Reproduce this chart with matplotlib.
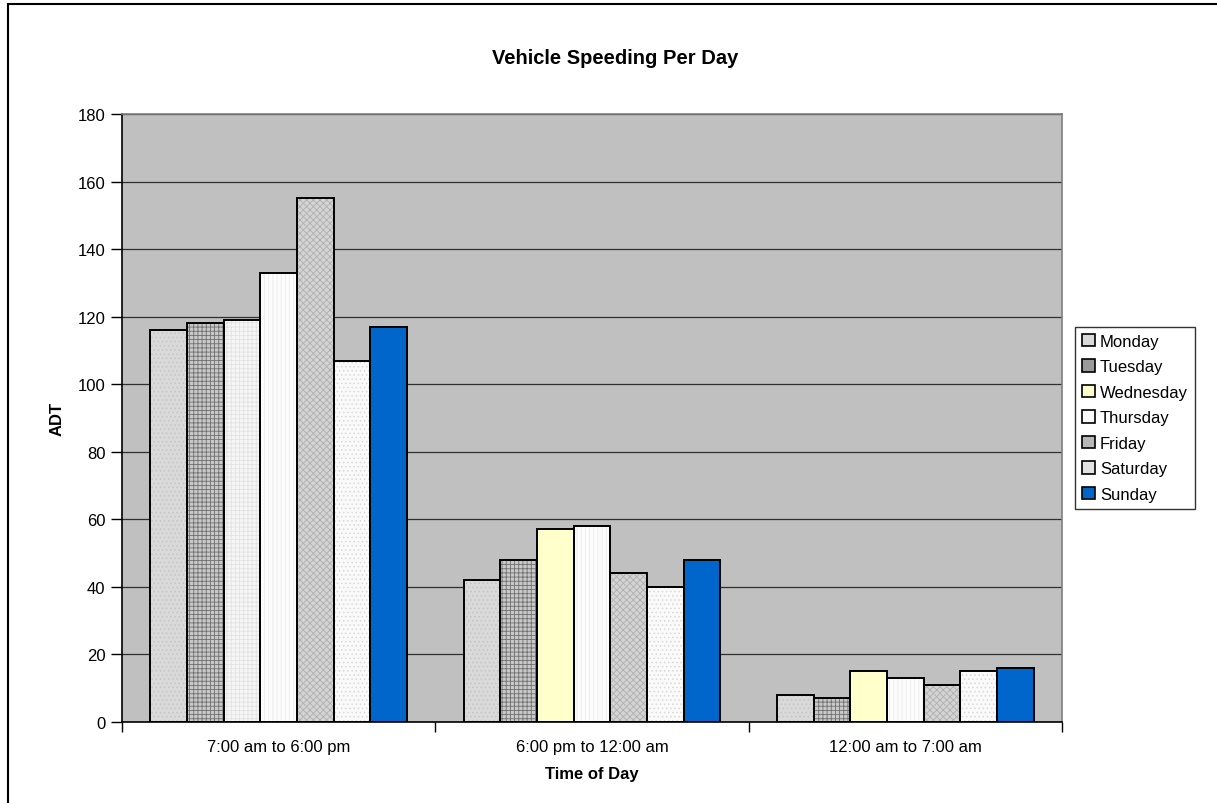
import matplotlib.pyplot as plt
import numpy as np
from matplotlib.patches import Patch, Rectangle

plt.rcParams["font.family"] = ["Liberation Sans", "DejaVu Sans"]
plt.rcParams["hatch.linewidth"] = 0.6

periods = ["7:00 am to 6:00 pm", "6:00 pm to 12:00 am", "12:00 am to 7:00 am"]
days = ["Monday", "Tuesday", "Wednesday", "Thursday", "Friday", "Saturday", "Sunday"]
counts = {
    "Monday": [116, 42, 8],
    "Tuesday": [118, 48, 7],
    "Wednesday": [119, 57, 15],
    "Thursday": [133, 58, 13],
    "Friday": [155, 44, 11],
    "Saturday": [107, 40, 15],
    "Sunday": [117, 48, 16],
}

# fill colour, hatch pattern, hatch colour for each day
styles = {
    "Monday": ("#d9d9d9", "....", "#c4c4c4"),
    "Tuesday": ("#c8c8c8", "++++", "#707070"),
    "Wednesday": ("#ffffcc", None, None),
    "Thursday": ("#fcfcfc", "||||", "#ececec"),
    "Friday": ("#d4d4d4", "xxxxx", "#b0b0b0"),
    "Saturday": ("#fafafa", "....", "#d8d8d8"),
    "Sunday": ("#0066cc", None, None),
}

fig = plt.figure(figsize=(12.17, 8.04), dpi=100)
W, H = 1217, 804
ax = fig.add_axes([122 / W, 1 - 723 / H, (1062 - 122) / W, (723 - 115) / H])
ax.set_facecolor("#c0c0c0")

x = np.arange(len(periods))
group = 0.82
bw = group / len(days)
for i, day in enumerate(days):
    fc, hatch, hc = styles[day]
    pos = x - group / 2 + bw * (i + 0.5)
    vals = counts[day]
    for j, (p, v) in enumerate(zip(pos, vals)):
        f, h, c = fc, hatch, hc
        if day == "Wednesday" and j == 0:
            f, h, c = "#f6f6f6", "++++", "#e2e2e2"
        ax.bar(p, v, bw, color=f, hatch=h, edgecolor=c if c else f,
               linewidth=0, zorder=2)
        ax.bar(p, v, bw, facecolor="none", edgecolor="black",
               linewidth=1.4, zorder=3)

ax.set_ylim(0, 180)
ax.set_xlim(-0.5, len(periods) - 0.5)
ax.set_yticks(np.arange(0, 181, 20))
ax.yaxis.grid(True, color="#303030", linewidth=0.9)
ax.set_axisbelow(True)
ax.set_xticks(x)
ax.set_xticklabels(periods)
ax.set_xticks(np.arange(-0.5, len(periods)), minor=True)
ax.tick_params(axis="x", which="major", length=0, pad=12, labelsize=12)
ax.tick_params(axis="x", which="minor", length=7, width=1, color="black")
ax.tick_params(axis="y", length=8, width=1, pad=4, labelsize=12)

for side in ["top", "right"]:
    ax.spines[side].set_color("#7f7f7f")
    ax.spines[side].set_linewidth(1.2)
ax.spines["left"].set_linewidth(1.2)
ax.spines["bottom"].set_linewidth(1.2)

ax.set_xlabel("Time of Day", fontsize=12, fontweight="bold", labelpad=9)
ax.set_ylabel("ADT", fontsize=12, fontweight="bold", labelpad=9)

fig.text(615 / W, 1 - 58 / H, "Vehicle Speeding Per Day", ha="center",
         va="center", fontsize=14.5, fontweight="bold")

handles = [Patch(facecolor=styles[d][0] if d != "Tuesday" else "#9a9a9a",
                 edgecolor="black", linewidth=1.2, label=d) for d in days]
handles[4] = Patch(facecolor="#b8b8b8", edgecolor="black", linewidth=1.2, label="Friday")
handles[5] = Patch(facecolor="#e2e2e2", edgecolor="black", linewidth=1.2, label="Saturday")
leg = fig.legend(handles=handles, loc="upper left",
                 bbox_to_anchor=(1075 / W, 1 - 328 / H), fontsize=12,
                 frameon=True, fancybox=False, edgecolor="black",
                 handlelength=0.8, handleheight=0.8, handletextpad=0.3,
                 labelspacing=0.62, borderpad=0.4, borderaxespad=0)
leg.get_frame().set_linewidth(1.0)

fig.patches.append(Rectangle((8 / W, -0.1), 1.2, 1 - 5 / H + 0.1,
                             transform=fig.transFigure, fill=False,
                             edgecolor="black", linewidth=1.5))

fig.savefig("out.png", dpi=100)
